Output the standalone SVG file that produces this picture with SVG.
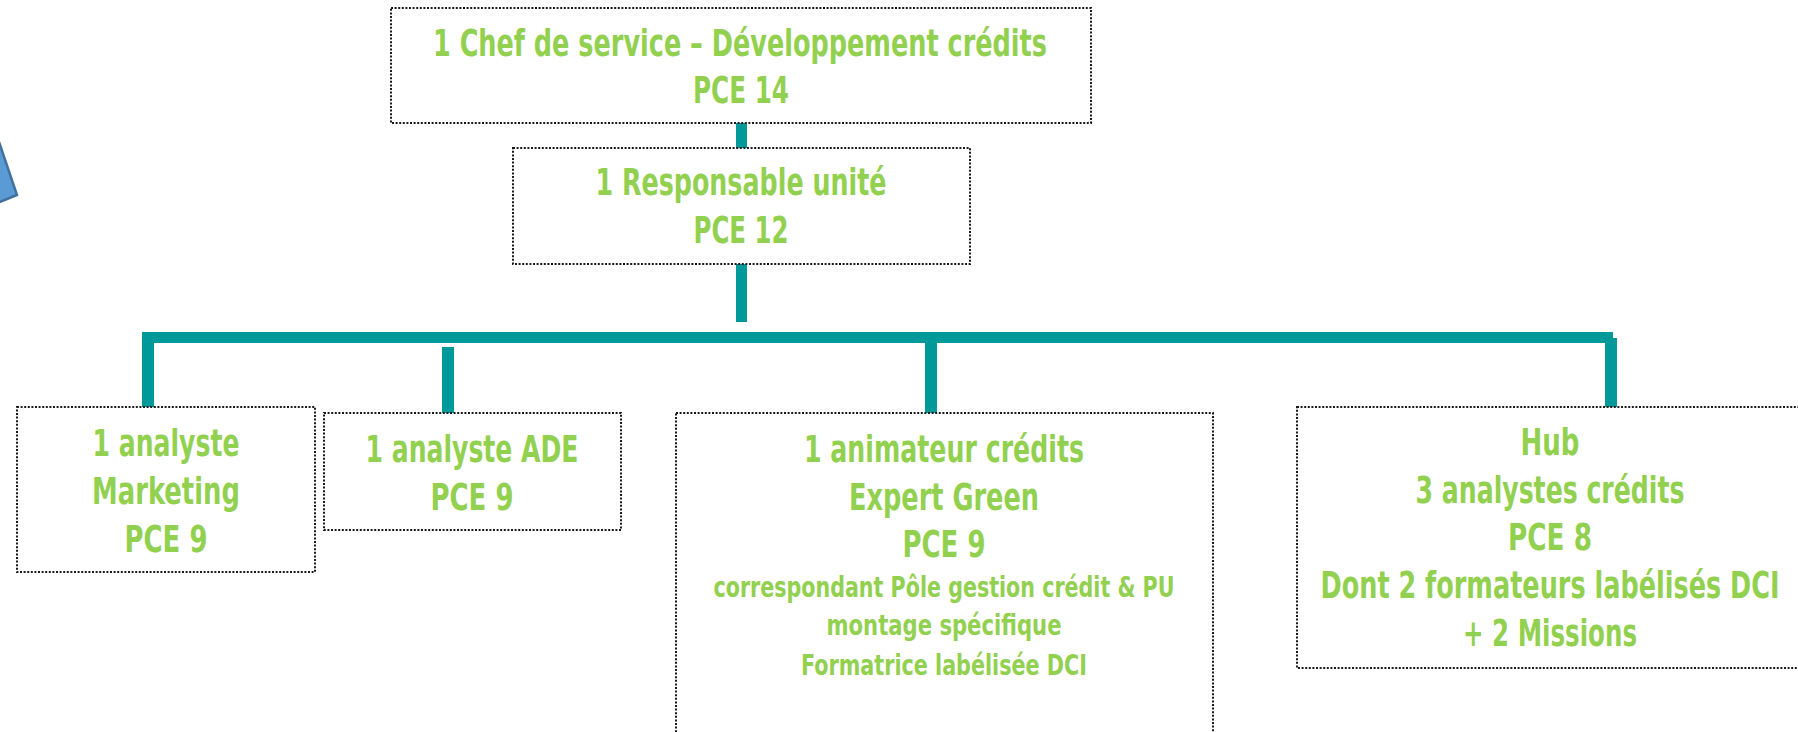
<svg xmlns="http://www.w3.org/2000/svg" width="1798" height="732" viewBox="0 0 1798 732">
  <style>
    .box { fill: #ffffff; stroke: #1a1a1a; stroke-width: 2; stroke-dasharray: 2 1.6; }
    .lbl { font-family: "DejaVu Sans Condensed", "Liberation Sans Narrow", "DejaVu Sans", sans-serif; font-stretch: condensed; font-weight: bold; fill: #92D050; text-anchor: middle; font-size: 38px; }
    .sm { font-size: 29px; }
    .link { fill: #009999; stroke: none; }
    .shape { fill: #5B9BD5; stroke: #41719C; stroke-width: 2.5; }
  </style>
  <rect width="1798" height="732" fill="#ffffff"/>

  <!-- partially visible shape at the left edge -->
  <polygon class="shape" points="-20,86 17,195 -20,210"/>

  <!-- connectors -->
  <g id="connectors">
    <rect class="link" x="736" y="123" width="11" height="25"/>
    <rect class="link" x="736" y="264" width="11" height="58"/>
    <rect class="link" x="142" y="332" width="1471" height="11"/>
    <rect class="link" x="142" y="332" width="12" height="75"/>
    <rect class="link" x="442" y="347" width="12" height="66"/>
    <rect class="link" x="925" y="343" width="12" height="70"/>
    <rect class="link" x="1605" y="338" width="12" height="69"/>
  </g>

  <g id="chef-service">
    <rect class="box" x="391" y="8" width="700" height="115"/>
    <text class="lbl" x="740" y="56" textLength="614" lengthAdjust="spacingAndGlyphs">1 Chef de service – Développement crédits</text>
    <text class="lbl" x="741" y="103" textLength="96" lengthAdjust="spacingAndGlyphs">PCE 14</text>
  </g>

  <g id="responsable-unite">
    <rect class="box" x="513" y="148" width="457" height="116"/>
    <text class="lbl" x="741" y="195" textLength="291" lengthAdjust="spacingAndGlyphs">1 Responsable unité</text>
    <text class="lbl" x="741" y="243" textLength="95" lengthAdjust="spacingAndGlyphs">PCE 12</text>
  </g>

  <g id="analyste-marketing">
    <rect class="box" x="17" y="407" width="298" height="165"/>
    <text class="lbl" x="166" y="456" textLength="147" lengthAdjust="spacingAndGlyphs">1 analyste</text>
    <text class="lbl" x="166" y="504" textLength="148" lengthAdjust="spacingAndGlyphs">Marketing</text>
    <text class="lbl" x="166" y="552" textLength="83" lengthAdjust="spacingAndGlyphs">PCE 9</text>
  </g>

  <g id="analyste-ade">
    <rect class="box" x="324" y="413" width="297" height="117"/>
    <text class="lbl" x="472" y="462" textLength="213" lengthAdjust="spacingAndGlyphs">1 analyste ADE</text>
    <text class="lbl" x="472" y="510" textLength="83" lengthAdjust="spacingAndGlyphs">PCE 9</text>
  </g>

  <g id="animateur-credits">
    <rect class="box" x="676" y="413" width="537" height="330"/>
    <text class="lbl" x="944" y="462" textLength="280" lengthAdjust="spacingAndGlyphs">1 animateur crédits</text>
    <text class="lbl" x="944" y="510" textLength="190" lengthAdjust="spacingAndGlyphs">Expert Green</text>
    <text class="lbl" x="944" y="557" textLength="83" lengthAdjust="spacingAndGlyphs">PCE 9</text>
    <text class="lbl sm" x="944" y="597" textLength="461" lengthAdjust="spacingAndGlyphs">correspondant Pôle gestion crédit &amp; PU</text>
    <text class="lbl sm" x="944" y="635" textLength="235" lengthAdjust="spacingAndGlyphs">montage spécifique</text>
    <text class="lbl sm" x="944" y="675" textLength="286" lengthAdjust="spacingAndGlyphs">Formatrice labélisée DCI</text>
  </g>

  <g id="hub">
    <rect class="box" x="1297" y="407" width="510" height="261"/>
    <text class="lbl" x="1550" y="455" textLength="59" lengthAdjust="spacingAndGlyphs">Hub</text>
    <text class="lbl" x="1550" y="503" textLength="269" lengthAdjust="spacingAndGlyphs">3 analystes crédits</text>
    <text class="lbl" x="1550" y="550" textLength="84" lengthAdjust="spacingAndGlyphs">PCE 8</text>
    <text class="lbl" x="1550" y="598" textLength="459" lengthAdjust="spacingAndGlyphs">Dont 2 formateurs labélisés DCI</text>
    <text class="lbl" x="1550" y="646" textLength="174" lengthAdjust="spacingAndGlyphs">+ 2 Missions</text>
  </g>
</svg>
